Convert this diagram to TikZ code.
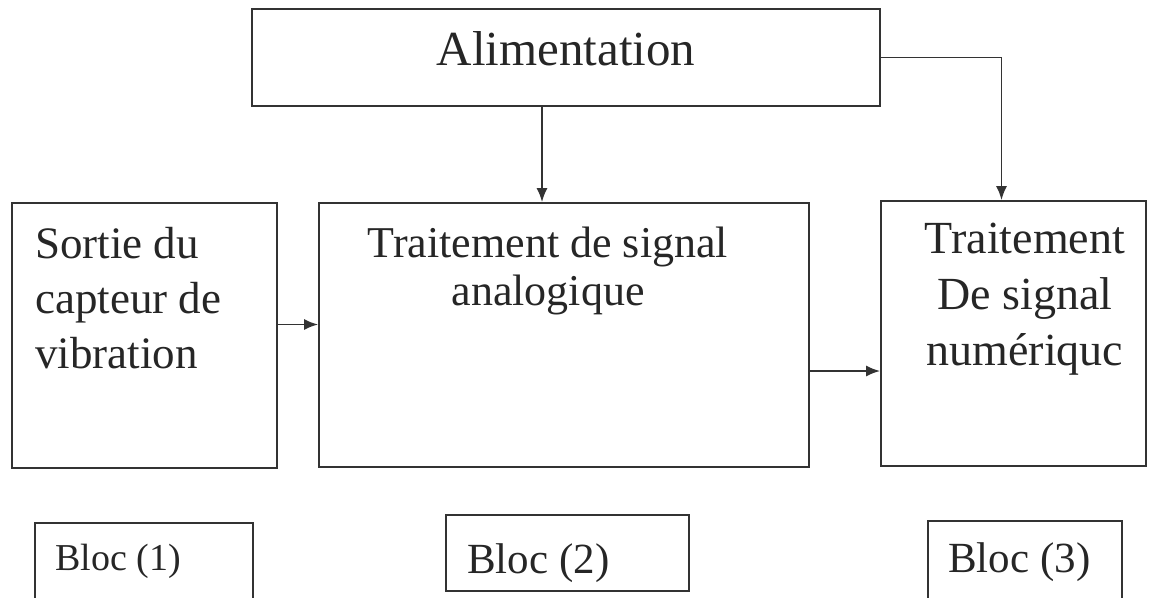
\documentclass[tikz,border=0pt]{standalone}
\usepackage{fontspec}
\setmainfont{Liberation Serif}
\usetikzlibrary{shapes,arrows.meta,positioning}

\begin{document}
\begin{tikzpicture}[x=1pt, y=-1pt,
    box/.style={rectangle, draw=black!80, line width=1.8pt, inner sep=0pt},
    flow/.style={-{Latex[length=14pt,width=11pt]}, draw=black!80, line width=1.8pt},
    txt/.style={inner sep=0pt, text=black!85}]
    \useasboundingbox (0,0) rectangle (1158,597);

    \node (alim) [box, minimum width=628pt, minimum height=97pt] at (566,57.5) {};
    \node (capteur) [box, minimum width=265pt, minimum height=265pt] at (144.5,335.5) {};
    \node (analog) [box, minimum width=490pt, minimum height=264pt] at (564,335) {};
    \node (numer) [box, minimum width=265pt, minimum height=265pt] at (1013.5,333.5) {};

    \node (bloc1) [box, minimum width=218pt, minimum height=82pt] at (144,564) {};
    \node (bloc2) [box, minimum width=243pt, minimum height=76pt] at (567.5,553) {};
    \node (bloc3) [box, minimum width=194pt, minimum height=84pt] at (1025,563) {};

    \node (alimtxt) [txt, anchor=base, font=\fontsize{49}{55}\selectfont] at (566,65) {Alimentation};
    \node (capteurtxt) [txt, anchor=base west, align=left, font=\fontsize{45}{55}\selectfont] at (35,368) {Sortie du\\capteur de\\vibration};
    \node (analogtxt) [txt, anchor=base, align=center, font=\fontsize{44}{48}\selectfont] at (548,305) {Traitement de signal\\analogique};
    \node (numertxt) [txt, anchor=base, align=center, font=\fontsize{46}{56}\selectfont] at (1025,365) {Traitement\\De signal\\numériquc};

    \node (bloc1txt) [txt, anchor=base west, font=\fontsize{38}{44}\selectfont] at (55,570) {Bloc (1)};
    \node (bloc2txt) [txt, anchor=base west, font=\fontsize{43}{48}\selectfont] at (467,573) {Bloc (2)};
    \node (bloc3txt) [txt, anchor=base west, font=\fontsize{43}{48}\selectfont] at (948,572) {Bloc (3)};

    \draw[flow] ([xshift=-24pt]alim.south) -- ([xshift=-24pt]alim.south |- analog.north);
    \draw[flow] (alim.east) -| ([xshift=-12pt]numer.north);
    \draw[flow] ([yshift=11pt]capteur.east) -- ([yshift=11pt]capteur.east -| analog.west);
    \draw[flow] ([yshift=-36pt]analog.east) -- ([yshift=-36pt]analog.east -| numer.west);
\end{tikzpicture}
\end{document}
